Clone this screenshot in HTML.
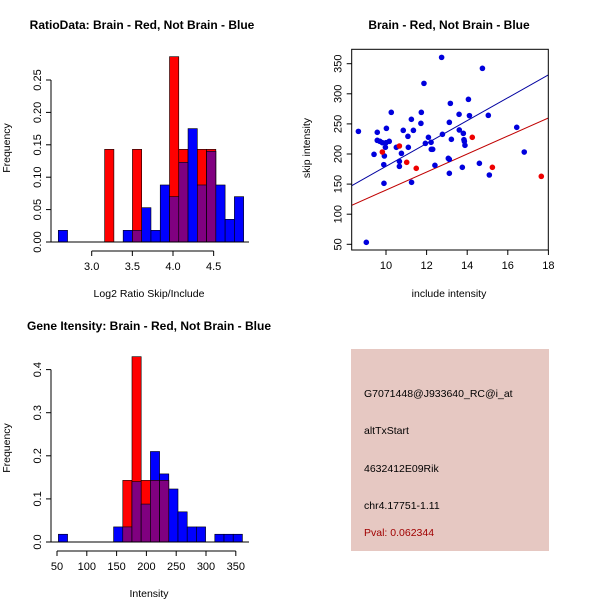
<!DOCTYPE html>
<html><head><meta charset="utf-8"><style>
body{margin:0;background:#fff}
svg{display:block}
text{font-family:"Liberation Sans",sans-serif;fill:#000}
</style></head><body>
<svg id="c" width="600" height="600" viewBox="0 0 600 600" xmlns="http://www.w3.org/2000/svg">
<rect width="600" height="600" fill="#fff"/>
<text x="142" y="29" font-size="12" font-weight="bold" text-anchor="middle">RatioData: Brain - Red, Not Brain - Blue</text>
<text x="449" y="29" font-size="12" font-weight="bold" text-anchor="middle">Brain - Red, Not Brain - Blue</text>
<text x="149" y="330" font-size="12" font-weight="bold" text-anchor="middle">Gene Itensity: Brain - Red, Not Brain - Blue</text>
<g id="g1"></g>
<g id="g2"></g>
<g id="g3"></g>
<g>
<rect x="351" y="349" width="198" height="202" fill="#e6c8c2"/>
<text x="364" y="397" font-size="10.5">G7071448@J933640_RC@i_at</text>
<text x="364" y="434" font-size="10.5">altTxStart</text>
<text x="364" y="472" font-size="10.5">4632412E09Rik</text>
<text x="364" y="509" font-size="10.5">chr4.17751-1.11</text>
<text x="364" y="536" font-size="10.5" style="fill:#a00000">Pval: 0.062344</text>
</g>
</svg>
<script>
// Chart 1 data
const ratioBinStart = 2.589, ratioBinWidth = 0.114;
const ratioBlue = [0.018,0,0,0,0,0,0,0.018,0.018,0.053,0.018,0.088,0.07,0.123,0.175,0.088,0.14,0.088,0.035,0.07];
const ratioRed  = [0,0,0,0,0,0.143,0,0,0.143,0,0,0,0.286,0.143,0,0.143,0.143,0,0,0];
const ratioXTicks = [3.0,3.5,4.0,4.5];
const ratioYTicks = [0,0.05,0.10,0.15,0.20,0.25];
const ratioYLabels = ["0.00","0.05","0.10","0.15","0.20","0.25"];
// Chart 3 data
const intBinStart = 52.3, intBinWidth = 15.44;
const intBlue = [0.018,0,0,0,0,0,0.035,0.035,0.14,0.088,0.21,0.158,0.123,0.07,0.035,0.035,0,0.018,0.018,0.018];
const intRed  = [0,0,0,0,0,0,0,0.143,0.43,0.143,0.143,0.143,0,0,0,0,0,0,0,0];
const intXTicks = [50,100,150,200,250,300,350];
const intYTicks = [0,0.1,0.2,0.3,0.4];
const intYLabels = ["0.0","0.1","0.2","0.3","0.4"];
// Chart 2 data
const blueX = [8.64,9.03,9.41,9.57,9.57,9.70,9.82,9.89,9.90,9.92,10.02,9.97,10.0,10.16,10.26,10.51,10.66,10.66,10.76,10.85,11.08,11.10,11.25,11.26,11.35,11.72,11.74,11.87,11.94,12.09,12.22,12.23,12.30,12.41,12.74,12.78,13.07,13.12,13.12,13.12,13.17,13.22,13.60,13.61,13.76,13.81,13.84,13.86,13.89,14.06,14.11,14.60,14.75,15.04,15.09,16.44,16.81];
const blueY = [237.6,53.3,199.4,236,222.7,221,218.8,182.3,151.3,196.7,242.6,211.1,218.8,221,269.2,211.1,187.8,179.5,201.1,239.3,229.3,211.1,257.6,153,239.3,250.9,269.2,317.3,217.7,227.7,219.4,207.8,207.8,181.2,360.5,232.7,192.8,191.1,167.9,252.6,284.1,224.4,265.9,239.9,177.9,234.3,223.8,221,214.4,290.8,263.7,184.5,342.3,264.2,165.1,244.3,203.3];
const redX = [9.82,10.66,11.02,11.49,14.25,15.24,17.65];
const redY = [203.3,213.3,186.2,176.2,227.7,177.9,162.9];
const blueFit = [-10.4,18.99];
const redFit = [-9.6,14.97];
const scXTicks = [10,12,14,16,18];
const scYTicks = [50,100,150,200,250,300,350];

const NS="http://www.w3.org/2000/svg";
function mk(p,t,a){const e=document.createElementNS(NS,t);for(const k in a)e.setAttribute(k,a[k]);p.appendChild(e);return e;}

function hist(g,o){
  const X=v=>o.x0+(v-o.xv0)*o.xs, Y=v=>o.y0-v*o.ys;
  for(let i=0;i<o.blue.length;i++){
    const a=o.bs+i*o.bw,b=a+o.bw,bl=o.blue[i],rd=o.red[i];
    if(bl>0){const r=mk(g,'rect',{x:X(a),y:Y(bl),width:X(b)-X(a),height:Y(0)-Y(bl),fill:'#0000ff',stroke:'#000','stroke-width':0.6});
      }
    if(rd>0){const r=mk(g,'rect',{x:X(a),y:Y(rd),width:X(b)-X(a),height:Y(0)-Y(rd),fill:'#ff0000',stroke:'#000','stroke-width':0.6});
      }
    const m=Math.min(bl,rd);
    if(m>0){const r=mk(g,'rect',{x:X(a),y:Y(m),width:X(b)-X(a),height:Y(0)-Y(m),fill:'#800080',stroke:'#000','stroke-width':0.6});
      }
  }
  mk(g,'line',{x1:o.ax1,x2:o.ax2,y1:Y(0),y2:Y(0),stroke:'#000','stroke-width':1});
  // y axis
  const yt=o.yt;
  mk(g,'line',{x1:o.yax,x2:o.yax,y1:Y(yt[0]),y2:Y(yt[yt.length-1]),stroke:'#000'});
  yt.forEach((v,i)=>{mk(g,'line',{x1:o.yax-5,x2:o.yax,y1:Y(v),y2:Y(v),stroke:'#000'});
    const t=mk(g,'text',{x:o.yax-10,y:Y(v),'font-size':11,'text-anchor':'middle',transform:`rotate(-90 ${o.yax-10} ${Y(v)})`});t.textContent=o.yl[i];
    });
  const xt=o.xt, ya=o.xay;
  mk(g,'line',{x1:X(xt[0]),x2:X(xt[xt.length-1]),y1:ya,y2:ya,stroke:'#000'});
  xt.forEach(v=>{mk(g,'line',{x1:X(v),x2:X(v),y1:ya,y2:ya+5,stroke:'#000'});
    const t=mk(g,'text',{x:X(v),y:ya+19,'font-size':11,'text-anchor':'middle'});t.textContent=o.xfmt(v);
    });
  const xl=mk(g,'text',{x:o.xlx,y:o.xly,'font-size':10.5,'text-anchor':'middle'});xl.textContent=o.xlab;
  
  const yl=mk(g,'text',{x:10,y:o.yly,'font-size':10.5,'text-anchor':'middle',transform:`rotate(-90 10 ${o.yly})`});yl.textContent='Frequency';
  
}
hist(document.getElementById('g1'),{x0:91.7,xv0:3.0,xs:81.3,y0:242,ys:648,bs:ratioBinStart,bw:ratioBinWidth,blue:ratioBlue,red:ratioRed,
  ax1:49,ax2:249,yax:51,yt:ratioYTicks,yl:ratioYLabels,xt:ratioXTicks,xay:251,xfmt:v=>v.toFixed(1),xlab:'Log2 Ratio Skip/Include',xlx:149,xly:297,yly:148});
hist(document.getElementById('g3'),{x0:57,xv0:50,xs:0.596,y0:542,ys:431,bs:intBinStart,bw:intBinWidth,blue:intBlue,red:intRed,
  ax1:49,ax2:249,yax:51,yt:intYTicks,yl:intYLabels,xt:intXTicks,xay:551,xfmt:v=>String(v),xlab:'Intensity',xlx:149,xly:597,yly:448});

// scatter
(function(){
  const g=document.getElementById('g2');
  const X=v=>386+(v-10)*20.3, Y=v=>63.7+(350-v)*0.602;
  const L=351.7,R=548.3,T=49.3,B=250;
  const cp=mk(g,'clipPath',{id:'cp'});mk(cp,'rect',{x:L,y:T,width:R-L,height:B-T});
  const lg=mk(g,'g',{'clip-path':'url(#cp)'});
  [[blueFit,'#0000a0','blue-fit-line'],[redFit,'#c00000','red-fit-line']].forEach(f=>{
    const x1=8.3,x2=18.1;
    const l=mk(lg,'line',{x1:X(x1),x2:X(x2),y1:Y(f[0][0]+f[0][1]*x1),y2:Y(f[0][0]+f[0][1]*x2),stroke:f[1],'stroke-width':1});
    });
  blueX.forEach((x,i)=>{const c=mk(g,'circle',{cx:X(x),cy:Y(blueY[i]),r:2.8,fill:'#0000dd'});
    });
  redX.forEach((x,i)=>{const c=mk(g,'circle',{cx:X(x),cy:Y(redY[i]),r:2.8,fill:'#ee0000'});
    });
  mk(g,'rect',{x:L,y:T,width:R-L,height:B-T,fill:'none',stroke:'#000'});
  scXTicks.forEach(v=>{mk(g,'line',{x1:X(v),x2:X(v),y1:B,y2:B+5,stroke:'#000'});
    const t=mk(g,'text',{x:X(v),y:B+19,'font-size':11,'text-anchor':'middle'});t.textContent=v;
    });
  scYTicks.forEach(v=>{mk(g,'line',{x1:L-5,x2:L,y1:Y(v),y2:Y(v),stroke:'#000'});
    const t=mk(g,'text',{x:L-10,y:Y(v),'font-size':11,'text-anchor':'middle',transform:`rotate(-90 ${L-10} ${Y(v)})`});t.textContent=v;
    });
  const xl=mk(g,'text',{x:449,y:297,'font-size':10.5,'text-anchor':'middle'});xl.textContent='include intensity';
  
  const yl=mk(g,'text',{x:310,y:148,'font-size':10.5,'text-anchor':'middle',transform:'rotate(-90 310 148)'});yl.textContent='skip intensity';
  
})();
</script>
</body></html>
